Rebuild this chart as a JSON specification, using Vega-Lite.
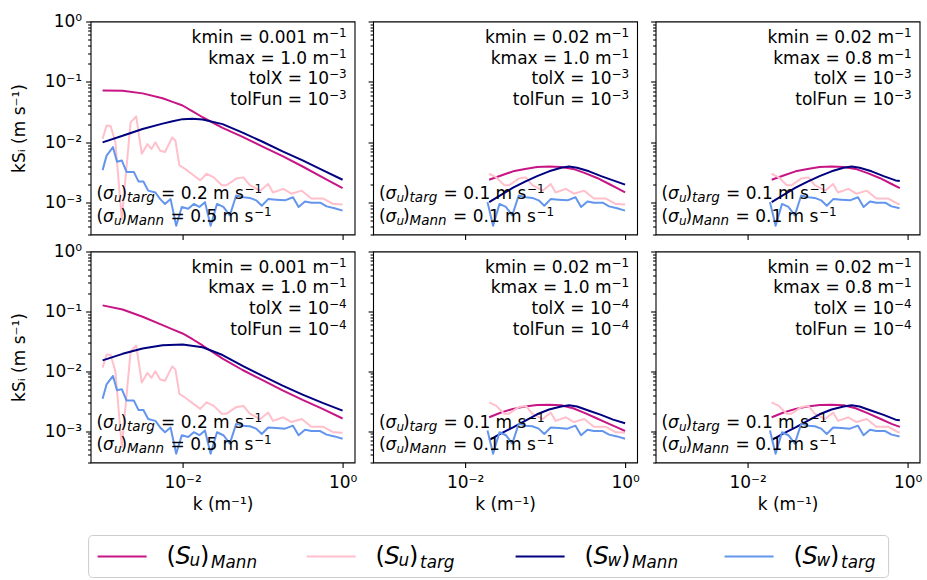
{
  "$schema": "https://vega.github.io/schema/vega-lite/v6.json",
  "background": "white",
  "padding": {"left": 9.6, "top": 11.5, "right": 9, "bottom": 5},
  "config": {
    "font": "DejaVu Sans",
    "view": {"stroke": "black", "strokeWidth": 1.1},
    "axis": {"domain": false, "grid": false, "ticks": true, "tickColor": "black", "tickWidth": 1.1, "labelFont": "DejaVu Sans", "labelFontSize": 17, "labelColor": "black", "labelFlush": false, "labelOverlap": false, "titleFont": "DejaVu Sans", "titleFontSize": 17, "titleFontWeight": "normal", "titleColor": "black"},
    "text": {"color": "black", "font": "DejaVu Sans"},
    "line": {"strokeWidth": 2, "strokeJoin": "round"}
  },
  "datasets": {
    "mann": [
      {"p":"a","s":"u","k":0.001,"v":0.0724},{"p":"a","s":"u","k":0.001778,"v":0.0716},{"p":"a","s":"u","k":0.003162,"v":0.0646},{"p":"a","s":"u","k":0.005623,"v":0.0537},{"p":"a","s":"u","k":0.0075,"v":0.0468},{"p":"a","s":"u","k":0.01,"v":0.0407},{"p":"a","s":"u","k":0.01334,"v":0.0324},{"p":"a","s":"u","k":0.01778,"v":0.026},{"p":"a","s":"u","k":0.03162,"v":0.01738},{"p":"a","s":"u","k":0.05623,"v":0.0123},{"p":"a","s":"u","k":0.1,"v":0.00851},{"p":"a","s":"u","k":0.1778,"v":0.00589},{"p":"a","s":"u","k":0.3162,"v":0.00398},{"p":"a","s":"u","k":0.5623,"v":0.00263},{"p":"a","s":"u","k":1,"v":0.00174},
      {"p":"a","s":"w","k":0.001,"v":0.01},{"p":"a","s":"w","k":0.001778,"v":0.01288},{"p":"a","s":"w","k":0.003162,"v":0.0166},{"p":"a","s":"w","k":0.005623,"v":0.0204},{"p":"a","s":"w","k":0.0075,"v":0.0224},{"p":"a","s":"w","k":0.01,"v":0.0242},{"p":"a","s":"w","k":0.01334,"v":0.0245},{"p":"a","s":"w","k":0.01778,"v":0.0238},{"p":"a","s":"w","k":0.03162,"v":0.02},{"p":"a","s":"w","k":0.05623,"v":0.01445},{"p":"a","s":"w","k":0.1,"v":0.01023},{"p":"a","s":"w","k":0.1778,"v":0.00708},{"p":"a","s":"w","k":0.3162,"v":0.00501},{"p":"a","s":"w","k":0.5623,"v":0.00347},{"p":"a","s":"w","k":1,"v":0.0024},
      {"p":"d","s":"u","k":0.001,"v":0.1259},{"p":"d","s":"u","k":0.001778,"v":0.1072},{"p":"d","s":"u","k":0.003162,"v":0.0813},{"p":"d","s":"u","k":0.005623,"v":0.0589},{"p":"d","s":"u","k":0.0075,"v":0.0501},{"p":"d","s":"u","k":0.01,"v":0.0427},{"p":"d","s":"u","k":0.01334,"v":0.0342},{"p":"d","s":"u","k":0.01778,"v":0.0269},{"p":"d","s":"u","k":0.03162,"v":0.01622},{"p":"d","s":"u","k":0.05623,"v":0.01047},{"p":"d","s":"u","k":0.1,"v":0.00708},{"p":"d","s":"u","k":0.1778,"v":0.00479},{"p":"d","s":"u","k":0.3162,"v":0.00331},{"p":"d","s":"u","k":0.5623,"v":0.00234},{"p":"d","s":"u","k":1,"v":0.00162},
      {"p":"d","s":"w","k":0.001,"v":0.01514},{"p":"d","s":"w","k":0.001778,"v":0.0195},{"p":"d","s":"w","k":0.003162,"v":0.024},{"p":"d","s":"w","k":0.005623,"v":0.0272},{"p":"d","s":"w","k":0.01,"v":0.0279},{"p":"d","s":"w","k":0.01778,"v":0.0251},{"p":"d","s":"w","k":0.03162,"v":0.01862},{"p":"d","s":"w","k":0.05623,"v":0.0123},{"p":"d","s":"w","k":0.1,"v":0.00832},{"p":"d","s":"w","k":0.1778,"v":0.00575},{"p":"d","s":"w","k":0.3162,"v":0.00407},{"p":"d","s":"w","k":0.5623,"v":0.00295},{"p":"d","s":"w","k":1,"v":0.00219},
      {"p":"b","s":"u","k":0.02,"v":0.002399},{"p":"b","s":"u","k":0.02818,"v":0.002818},{"p":"b","s":"u","k":0.03981,"v":0.003311},{"p":"b","s":"u","k":0.05623,"v":0.003631},{"p":"b","s":"u","k":0.07943,"v":0.00389},{"p":"b","s":"u","k":0.1122,"v":0.003981},{"p":"b","s":"u","k":0.1585,"v":0.00389},{"p":"b","s":"u","k":0.2239,"v":0.003631},{"p":"b","s":"u","k":0.3162,"v":0.00309},{"p":"b","s":"u","k":0.4467,"v":0.00257},{"p":"b","s":"u","k":0.631,"v":0.002042},{"p":"b","s":"u","k":0.7943,"v":0.001738},{"p":"b","s":"u","k":1,"v":0.001479},
      {"p":"b","s":"w","k":0.02,"v":0.001023},{"p":"b","s":"w","k":0.02818,"v":0.001349},{"p":"b","s":"w","k":0.03981,"v":0.001778},{"p":"b","s":"w","k":0.05623,"v":0.002239},{"p":"b","s":"w","k":0.07943,"v":0.002754},{"p":"b","s":"w","k":0.1122,"v":0.003311},{"p":"b","s":"w","k":0.1585,"v":0.003802},{"p":"b","s":"w","k":0.1995,"v":0.003981},{"p":"b","s":"w","k":0.2512,"v":0.003802},{"p":"b","s":"w","k":0.3548,"v":0.003311},{"p":"b","s":"w","k":0.5012,"v":0.002754},{"p":"b","s":"w","k":0.7079,"v":0.002344},{"p":"b","s":"w","k":1,"v":0.001995},
      {"p":"c","s":"u","k":0.02,"v":0.002399},{"p":"c","s":"u","k":0.02818,"v":0.002818},{"p":"c","s":"u","k":0.03981,"v":0.003311},{"p":"c","s":"u","k":0.05623,"v":0.003631},{"p":"c","s":"u","k":0.07943,"v":0.00389},{"p":"c","s":"u","k":0.1122,"v":0.003981},{"p":"c","s":"u","k":0.1585,"v":0.00389},{"p":"c","s":"u","k":0.2239,"v":0.003631},{"p":"c","s":"u","k":0.3162,"v":0.00309},{"p":"c","s":"u","k":0.4467,"v":0.00257},{"p":"c","s":"u","k":0.631,"v":0.002042},{"p":"c","s":"u","k":0.8,"v":0.001738},
      {"p":"c","s":"w","k":0.02,"v":0.001023},{"p":"c","s":"w","k":0.02818,"v":0.001349},{"p":"c","s":"w","k":0.03981,"v":0.001778},{"p":"c","s":"w","k":0.05623,"v":0.002239},{"p":"c","s":"w","k":0.07943,"v":0.002754},{"p":"c","s":"w","k":0.1122,"v":0.003311},{"p":"c","s":"w","k":0.1585,"v":0.003802},{"p":"c","s":"w","k":0.1995,"v":0.003981},{"p":"c","s":"w","k":0.2512,"v":0.003802},{"p":"c","s":"w","k":0.3548,"v":0.003311},{"p":"c","s":"w","k":0.5012,"v":0.002754},{"p":"c","s":"w","k":0.7079,"v":0.002344},{"p":"c","s":"w","k":0.8,"v":0.00229},
      {"p":"e","s":"u","k":0.02,"v":0.001698},{"p":"e","s":"u","k":0.02818,"v":0.002042},{"p":"e","s":"u","k":0.03981,"v":0.002344},{"p":"e","s":"u","k":0.05623,"v":0.00257},{"p":"e","s":"u","k":0.07943,"v":0.002723},{"p":"e","s":"u","k":0.1122,"v":0.002754},{"p":"e","s":"u","k":0.1585,"v":0.002692},{"p":"e","s":"u","k":0.2239,"v":0.002399},{"p":"e","s":"u","k":0.3162,"v":0.001995},{"p":"e","s":"u","k":0.4467,"v":0.001622},{"p":"e","s":"u","k":0.631,"v":0.001318},{"p":"e","s":"u","k":0.7943,"v":0.001148},{"p":"e","s":"u","k":1,"v":0.001},
      {"p":"e","s":"w","k":0.02,"v":0.000708},{"p":"e","s":"w","k":0.02818,"v":0.000912},{"p":"e","s":"w","k":0.03981,"v":0.001148},{"p":"e","s":"w","k":0.05623,"v":0.001479},{"p":"e","s":"w","k":0.07943,"v":0.001905},{"p":"e","s":"w","k":0.1122,"v":0.002291},{"p":"e","s":"w","k":0.1585,"v":0.00257},{"p":"e","s":"w","k":0.1995,"v":0.002692},{"p":"e","s":"w","k":0.2512,"v":0.00257},{"p":"e","s":"w","k":0.3548,"v":0.002188},{"p":"e","s":"w","k":0.5012,"v":0.001862},{"p":"e","s":"w","k":0.7079,"v":0.001549},{"p":"e","s":"w","k":1,"v":0.001349},
      {"p":"f","s":"u","k":0.02,"v":0.001698},{"p":"f","s":"u","k":0.02818,"v":0.002042},{"p":"f","s":"u","k":0.03981,"v":0.002344},{"p":"f","s":"u","k":0.05623,"v":0.00257},{"p":"f","s":"u","k":0.07943,"v":0.002723},{"p":"f","s":"u","k":0.1122,"v":0.002754},{"p":"f","s":"u","k":0.1585,"v":0.002692},{"p":"f","s":"u","k":0.2239,"v":0.002399},{"p":"f","s":"u","k":0.3162,"v":0.001995},{"p":"f","s":"u","k":0.4467,"v":0.001622},{"p":"f","s":"u","k":0.631,"v":0.001318},{"p":"f","s":"u","k":0.8,"v":0.001175},
      {"p":"f","s":"w","k":0.02,"v":0.000708},{"p":"f","s":"w","k":0.02818,"v":0.000912},{"p":"f","s":"w","k":0.03981,"v":0.001148},{"p":"f","s":"w","k":0.05623,"v":0.001479},{"p":"f","s":"w","k":0.07943,"v":0.001905},{"p":"f","s":"w","k":0.1122,"v":0.002291},{"p":"f","s":"w","k":0.1585,"v":0.00257},{"p":"f","s":"w","k":0.1995,"v":0.002692},{"p":"f","s":"w","k":0.2512,"v":0.00257},{"p":"f","s":"w","k":0.3548,"v":0.002188},{"p":"f","s":"w","k":0.5012,"v":0.001862},{"p":"f","s":"w","k":0.7079,"v":0.001549},{"p":"f","s":"w","k":0.8,"v":0.001514}
    ],
    "targ": [
      {"s":"u","k":0.001,"v":0.01148},{"s":"u","k":0.001122,"v":0.01905},{"s":"u","k":0.001259,"v":0.01862},{"s":"u","k":0.001445,"v":0.01},{"s":"u","k":0.001738,"v":0.000537},{"s":"u","k":0.002239,"v":0.02138},{"s":"u","k":0.00263,"v":0.02692},{"s":"u","k":0.00309,"v":0.006457},{"s":"u","k":0.003631,"v":0.009333},{"s":"u","k":0.004074,"v":0.007762},{"s":"u","k":0.004571,"v":0.01},{"s":"u","k":0.005248,"v":0.007244},{"s":"u","k":0.006026,"v":0.006918},{"s":"u","k":0.007413,"v":0.01202},{"s":"u","k":0.008128,"v":0.01072},{"s":"u","k":0.00912,"v":0.004169},{"s":"u","k":0.01072,"v":0.003631},{"s":"u","k":0.0138,"v":0.002818},{"s":"u","k":0.0166,"v":0.002344},{"s":"u","k":0.01995,"v":0.00302},{"s":"u","k":0.02455,"v":0.00263},{"s":"u","k":0.0309,"v":0.00195},{"s":"u","k":0.03548,"v":0.00195},{"s":"u","k":0.04677,"v":0.002512},{"s":"u","k":0.05754,"v":0.00263},{"s":"u","k":0.06918,"v":0.00195},{"s":"u","k":0.09333,"v":0.001585},{"s":"u","k":0.1175,"v":0.002042},{"s":"u","k":0.1349,"v":0.001479},{"s":"u","k":0.182,"v":0.001698},{"s":"u","k":0.2291,"v":0.001413},{"s":"u","k":0.309,"v":0.001585},{"s":"u","k":0.4074,"v":0.001175},{"s":"u","k":0.5754,"v":0.001175},{"s":"u","k":0.7586,"v":0.000955},{"s":"u","k":0.8,"v":0.00095},{"s":"u","k":1,"v":0.000933},
      {"s":"w","k":0.001,"v":0.003467},{"s":"w","k":0.001122,"v":0.006026},{"s":"w","k":0.001349,"v":0.008318},{"s":"w","k":0.001514,"v":0.004786},{"s":"w","k":0.001738,"v":0.005012},{"s":"w","k":0.001995,"v":0.003236},{"s":"w","k":0.002455,"v":0.003236},{"s":"w","k":0.002818,"v":0.002239},{"s":"w","k":0.003236,"v":0.002239},{"s":"w","k":0.003715,"v":0.001585},{"s":"w","k":0.004571,"v":0.001479},{"s":"w","k":0.005248,"v":0.001148},{"s":"w","k":0.006026,"v":0.000955},{"s":"w","k":0.007079,"v":0.001148},{"s":"w","k":0.008318,"v":0.000417},{"s":"w","k":0.009772,"v":0.000851},{"s":"w","k":0.01175,"v":0.000794},{"s":"w","k":0.0138,"v":0.000955},{"s":"w","k":0.01622,"v":0.000851},{"s":"w","k":0.01905,"v":0.001023},{"s":"w","k":0.02239,"v":0.000417},{"s":"w","k":0.02692,"v":0.000955},{"s":"w","k":0.03236,"v":0.000851},{"s":"w","k":0.0389,"v":0.000617},{"s":"w","k":0.04677,"v":0.001318},{"s":"w","k":0.05754,"v":0.00123},{"s":"w","k":0.06918,"v":0.001202},{"s":"w","k":0.08318,"v":0.001096},{"s":"w","k":0.09772,"v":0.000891},{"s":"w","k":0.1175,"v":0.001148},{"s":"w","k":0.1479,"v":0.001122},{"s":"w","k":0.1905,"v":0.001096},{"s":"w","k":0.2399,"v":0.00123},{"s":"w","k":0.2818,"v":0.000851},{"s":"w","k":0.3388,"v":0.001047},{"s":"w","k":0.4074,"v":0.001},{"s":"w","k":0.5248,"v":0.001},{"s":"w","k":0.631,"v":0.000871},{"s":"w","k":0.7943,"v":0.000813},{"s":"w","k":1,"v":0.000741}
    ],
    "notes": [
      {"p":"a","rt":["kmin = 0.001 m","kmax = 1.0 m","tolX = 10","tolFun = 10"],"rs":["−1","−1","−3","−3"],"m1":"= 0.2 m s","m2":"= 0.5 m s"},
      {"p":"b","rt":["kmin = 0.02 m","kmax = 1.0 m","tolX = 10","tolFun = 10"],"rs":["−1","−1","−3","−3"],"m1":"= 0.1 m s","m2":"= 0.1 m s"},
      {"p":"c","rt":["kmin = 0.02 m","kmax = 0.8 m","tolX = 10","tolFun = 10"],"rs":["−1","−1","−3","−3"],"m1":"= 0.1 m s","m2":"= 0.1 m s"},
      {"p":"d","rt":["kmin = 0.001 m","kmax = 1.0 m","tolX = 10","tolFun = 10"],"rs":["−1","−1","−4","−4"],"m1":"= 0.2 m s","m2":"= 0.5 m s"},
      {"p":"e","rt":["kmin = 0.02 m","kmax = 1.0 m","tolX = 10","tolFun = 10"],"rs":["−1","−1","−4","−4"],"m1":"= 0.1 m s","m2":"= 0.1 m s"},
      {"p":"f","rt":["kmin = 0.02 m","kmax = 0.8 m","tolX = 10","tolFun = 10"],"rs":["−1","−1","−4","−4"],"m1":"= 0.1 m s","m2":"= 0.1 m s"}
    ],
    "keys": [
      {"s":"SuMann","c":"u","t":"Mann"},{"s":"Sutarg","c":"u","t":"targ"},{"s":"SwMann","c":"w","t":"Mann"},{"s":"Swtarg","c":"w","t":"targ"}
    ],
    "box": [{"a":"SuMann","b":"Swtarg"}]
  },
  "vconcat": [
    {
      "columns": 3,
      "spacing": {"row": 17, "column": 18.5},
      "bounds": "flush",
      "concat": [
        {"width":264,"height":213,"resolve":{"axis":{"x":"independent","y":"independent"}},"layer":[
          {"data":{"name":"mann"},"transform":[{"filter":"datum.p == 'a' && datum.s == 'u'"}],"mark":{"type":"line","color":"#c71585"},"encoding":{"x":{"field":"k","type":"quantitative","scale":{"type":"log","domain":[0.000708,1.413],"nice":false},"axis":{"orient":"bottom","values":[0.01,1],"labels":false,"title":null,"tickSize":5}},"y":{"field":"v","type":"quantitative","scale":{"type":"log","domain":[0.000298,1],"nice":false},"axis":{"orient":"left","values":[0.001,0.01,0.1,1],"labelExpr":"datum.value == 1 ? '10⁰' : datum.value == 0.1 ? '10⁻¹' : datum.value == 0.01 ? '10⁻²' : '10⁻³'","tickSize":5,"labelPadding":4,"title":"kSᵢ (m s⁻¹)","titlePadding":16}}}},
          {"data":{"name":"targ"},"transform":[{"filter":"datum.s == 'u'"}],"mark":{"type":"line","color":"#ffc0cb"},"encoding":{"x":{"field":"k","type":"quantitative","axis":null},"y":{"field":"v","type":"quantitative","axis":{"orient":"left","values":[0.0003,0.0004,0.0005,0.0006,0.0007,0.0008,0.0009,0.002,0.003,0.004,0.005,0.006,0.007,0.008,0.009,0.02,0.03,0.04,0.05,0.06,0.07,0.08,0.09,0.2,0.3,0.4,0.5,0.6,0.7,0.8,0.9],"labels":false,"title":null,"tickSize":3}}}},
          {"data":{"name":"mann"},"transform":[{"filter":"datum.p == 'a' && datum.s == 'w'"}],"mark":{"type":"line","color":"#000080"},"encoding":{"x":{"field":"k","type":"quantitative","axis":null},"y":{"field":"v","type":"quantitative","axis":null}}},
          {"data":{"name":"targ"},"transform":[{"filter":"datum.s == 'w'"}],"mark":{"type":"line","color":"#6495ed"},"encoding":{"x":{"field":"k","type":"quantitative","axis":null},"y":{"field":"v","type":"quantitative","axis":null}}},
          {"data":{"name":"notes"},"transform":[{"filter":"datum.p == 'a'"}],"mark":{"type":"text","align":"right","baseline":"alphabetic","fontSize":17,"lineHeight":20.6,"dx":-17.5},"encoding":{"x":{"datum":1.122,"type":"quantitative","axis":null},"y":{"datum":0.44,"type":"quantitative","axis":null},"text":{"field":"rt","type":"nominal"}}},
          {"data":{"name":"notes"},"transform":[{"filter":"datum.p == 'a'"}],"mark":{"type":"text","align":"right","baseline":"alphabetic","fontSize":12,"lineHeight":20.6,"dy":-6},"encoding":{"x":{"datum":1.122,"type":"quantitative","axis":null},"y":{"datum":0.44,"type":"quantitative","axis":null},"text":{"field":"rs","type":"nominal"}}},
          {"data":{"name":"notes"},"transform":[{"filter":"datum.p == 'a'"}],"mark":{"type":"text","align":"left","baseline":"alphabetic","fontSize":17,"lineHeight":22.5,"text":["(","("]},"encoding":{"x":{"datum":0.000841,"type":"quantitative","axis":null},"y":{"datum":0.00114,"type":"quantitative","axis":null}}},
          {"data":{"name":"notes"},"transform":[{"filter":"datum.p == 'a'"}],"mark":{"type":"text","align":"left","baseline":"alphabetic","fontSize":17,"fontStyle":"italic","lineHeight":22.5,"dx":6.5,"text":["σ","σ"]},"encoding":{"x":{"datum":0.000841,"type":"quantitative","axis":null},"y":{"datum":0.00114,"type":"quantitative","axis":null}}},
          {"data":{"name":"notes"},"transform":[{"filter":"datum.p == 'a'"}],"mark":{"type":"text","align":"left","baseline":"alphabetic","fontSize":12,"fontStyle":"italic","lineHeight":22.5,"dx":17.5,"dy":3,"text":["u","u"]},"encoding":{"x":{"datum":0.000841,"type":"quantitative","axis":null},"y":{"datum":0.00114,"type":"quantitative","axis":null}}},
          {"data":{"name":"notes"},"transform":[{"filter":"datum.p == 'a'"}],"mark":{"type":"text","align":"left","baseline":"alphabetic","fontSize":17,"lineHeight":22.5,"dx":24,"text":[")",")"]},"encoding":{"x":{"datum":0.000841,"type":"quantitative","axis":null},"y":{"datum":0.00114,"type":"quantitative","axis":null}}},
          {"data":{"name":"notes"},"transform":[{"filter":"datum.p == 'a'"}],"mark":{"type":"text","align":"left","baseline":"alphabetic","fontSize":13.5,"fontStyle":"italic","lineHeight":22.5,"dx":30.5,"dy":3,"text":["targ","Mann"]},"encoding":{"x":{"datum":0.000841,"type":"quantitative","axis":null},"y":{"datum":0.00114,"type":"quantitative","axis":null}}},
          {"data":{"name":"notes"},"transform":[{"filter":"datum.p == 'a'"}],"mark":{"type":"text","align":"left","baseline":"alphabetic","fontSize":17,"dx":64.5},"encoding":{"x":{"datum":0.000841,"type":"quantitative","axis":null},"y":{"datum":0.00114,"type":"quantitative","axis":null},"text":{"field":"m1","type":"nominal"}}},
          {"data":{"name":"notes"},"transform":[{"filter":"datum.p == 'a'"}],"mark":{"type":"text","align":"left","baseline":"alphabetic","fontSize":12,"dx":148,"dy":-6,"text":"−1"},"encoding":{"x":{"datum":0.000841,"type":"quantitative","axis":null},"y":{"datum":0.00114,"type":"quantitative","axis":null}}},
          {"data":{"name":"notes"},"transform":[{"filter":"datum.p == 'a'"}],"mark":{"type":"text","align":"left","baseline":"alphabetic","fontSize":17,"dx":74,"dy":22.5},"encoding":{"x":{"datum":0.000841,"type":"quantitative","axis":null},"y":{"datum":0.00114,"type":"quantitative","axis":null},"text":{"field":"m2","type":"nominal"}}},
          {"data":{"name":"notes"},"transform":[{"filter":"datum.p == 'a'"}],"mark":{"type":"text","align":"left","baseline":"alphabetic","fontSize":12,"dx":157.5,"dy":16.5,"text":"−1"},"encoding":{"x":{"datum":0.000841,"type":"quantitative","axis":null},"y":{"datum":0.00114,"type":"quantitative","axis":null}}}
        ]},
        {"width":264,"height":213,"resolve":{"axis":{"x":"independent","y":"independent"}},"layer":[
          {"data":{"name":"mann"},"transform":[{"filter":"datum.p == 'b' && datum.s == 'u'"}],"mark":{"type":"line","color":"#c71585"},"encoding":{"x":{"field":"k","type":"quantitative","scale":{"type":"log","domain":[0.000708,1.413],"nice":false},"axis":{"orient":"bottom","values":[0.01,1],"labels":false,"title":null,"tickSize":5}},"y":{"field":"v","type":"quantitative","scale":{"type":"log","domain":[0.000298,1],"nice":false},"axis":{"orient":"left","values":[0.001,0.01,0.1,1],"labels":false,"title":null,"tickSize":5}}}},
          {"data":{"name":"targ"},"transform":[{"filter":"datum.s == 'u' && datum.k >= 0.019"}],"mark":{"type":"line","color":"#ffc0cb"},"encoding":{"x":{"field":"k","type":"quantitative","axis":null},"y":{"field":"v","type":"quantitative","axis":{"orient":"left","values":[0.0003,0.0004,0.0005,0.0006,0.0007,0.0008,0.0009,0.002,0.003,0.004,0.005,0.006,0.007,0.008,0.009,0.02,0.03,0.04,0.05,0.06,0.07,0.08,0.09,0.2,0.3,0.4,0.5,0.6,0.7,0.8,0.9],"labels":false,"title":null,"tickSize":3}}}},
          {"data":{"name":"mann"},"transform":[{"filter":"datum.p == 'b' && datum.s == 'w'"}],"mark":{"type":"line","color":"#000080"},"encoding":{"x":{"field":"k","type":"quantitative","axis":null},"y":{"field":"v","type":"quantitative","axis":null}}},
          {"data":{"name":"targ"},"transform":[{"filter":"datum.s == 'w' && datum.k >= 0.019"}],"mark":{"type":"line","color":"#6495ed"},"encoding":{"x":{"field":"k","type":"quantitative","axis":null},"y":{"field":"v","type":"quantitative","axis":null}}},
          {"data":{"name":"notes"},"transform":[{"filter":"datum.p == 'b'"}],"mark":{"type":"text","align":"right","baseline":"alphabetic","fontSize":17,"lineHeight":20.6,"dx":-17.5},"encoding":{"x":{"datum":1.122,"type":"quantitative","axis":null},"y":{"datum":0.44,"type":"quantitative","axis":null},"text":{"field":"rt","type":"nominal"}}},
          {"data":{"name":"notes"},"transform":[{"filter":"datum.p == 'b'"}],"mark":{"type":"text","align":"right","baseline":"alphabetic","fontSize":12,"lineHeight":20.6,"dy":-6},"encoding":{"x":{"datum":1.122,"type":"quantitative","axis":null},"y":{"datum":0.44,"type":"quantitative","axis":null},"text":{"field":"rs","type":"nominal"}}},
          {"data":{"name":"notes"},"transform":[{"filter":"datum.p == 'b'"}],"mark":{"type":"text","align":"left","baseline":"alphabetic","fontSize":17,"lineHeight":22.5,"text":["(","("]},"encoding":{"x":{"datum":0.000841,"type":"quantitative","axis":null},"y":{"datum":0.00114,"type":"quantitative","axis":null}}},
          {"data":{"name":"notes"},"transform":[{"filter":"datum.p == 'b'"}],"mark":{"type":"text","align":"left","baseline":"alphabetic","fontSize":17,"fontStyle":"italic","lineHeight":22.5,"dx":6.5,"text":["σ","σ"]},"encoding":{"x":{"datum":0.000841,"type":"quantitative","axis":null},"y":{"datum":0.00114,"type":"quantitative","axis":null}}},
          {"data":{"name":"notes"},"transform":[{"filter":"datum.p == 'b'"}],"mark":{"type":"text","align":"left","baseline":"alphabetic","fontSize":12,"fontStyle":"italic","lineHeight":22.5,"dx":17.5,"dy":3,"text":["u","u"]},"encoding":{"x":{"datum":0.000841,"type":"quantitative","axis":null},"y":{"datum":0.00114,"type":"quantitative","axis":null}}},
          {"data":{"name":"notes"},"transform":[{"filter":"datum.p == 'b'"}],"mark":{"type":"text","align":"left","baseline":"alphabetic","fontSize":17,"lineHeight":22.5,"dx":24,"text":[")",")"]},"encoding":{"x":{"datum":0.000841,"type":"quantitative","axis":null},"y":{"datum":0.00114,"type":"quantitative","axis":null}}},
          {"data":{"name":"notes"},"transform":[{"filter":"datum.p == 'b'"}],"mark":{"type":"text","align":"left","baseline":"alphabetic","fontSize":13.5,"fontStyle":"italic","lineHeight":22.5,"dx":30.5,"dy":3,"text":["targ","Mann"]},"encoding":{"x":{"datum":0.000841,"type":"quantitative","axis":null},"y":{"datum":0.00114,"type":"quantitative","axis":null}}},
          {"data":{"name":"notes"},"transform":[{"filter":"datum.p == 'b'"}],"mark":{"type":"text","align":"left","baseline":"alphabetic","fontSize":17,"dx":64.5},"encoding":{"x":{"datum":0.000841,"type":"quantitative","axis":null},"y":{"datum":0.00114,"type":"quantitative","axis":null},"text":{"field":"m1","type":"nominal"}}},
          {"data":{"name":"notes"},"transform":[{"filter":"datum.p == 'b'"}],"mark":{"type":"text","align":"left","baseline":"alphabetic","fontSize":12,"dx":148,"dy":-6,"text":"−1"},"encoding":{"x":{"datum":0.000841,"type":"quantitative","axis":null},"y":{"datum":0.00114,"type":"quantitative","axis":null}}},
          {"data":{"name":"notes"},"transform":[{"filter":"datum.p == 'b'"}],"mark":{"type":"text","align":"left","baseline":"alphabetic","fontSize":17,"dx":74,"dy":22.5},"encoding":{"x":{"datum":0.000841,"type":"quantitative","axis":null},"y":{"datum":0.00114,"type":"quantitative","axis":null},"text":{"field":"m2","type":"nominal"}}},
          {"data":{"name":"notes"},"transform":[{"filter":"datum.p == 'b'"}],"mark":{"type":"text","align":"left","baseline":"alphabetic","fontSize":12,"dx":157.5,"dy":16.5,"text":"−1"},"encoding":{"x":{"datum":0.000841,"type":"quantitative","axis":null},"y":{"datum":0.00114,"type":"quantitative","axis":null}}}
        ]},
        {"width":264,"height":213,"resolve":{"axis":{"x":"independent","y":"independent"}},"layer":[
          {"data":{"name":"mann"},"transform":[{"filter":"datum.p == 'c' && datum.s == 'u'"}],"mark":{"type":"line","color":"#c71585"},"encoding":{"x":{"field":"k","type":"quantitative","scale":{"type":"log","domain":[0.000708,1.413],"nice":false},"axis":{"orient":"bottom","values":[0.01,1],"labels":false,"title":null,"tickSize":5}},"y":{"field":"v","type":"quantitative","scale":{"type":"log","domain":[0.000298,1],"nice":false},"axis":{"orient":"left","values":[0.001,0.01,0.1,1],"labels":false,"title":null,"tickSize":5}}}},
          {"data":{"name":"targ"},"transform":[{"filter":"datum.s == 'u' && datum.k >= 0.019 && datum.k <= 0.8001"}],"mark":{"type":"line","color":"#ffc0cb"},"encoding":{"x":{"field":"k","type":"quantitative","axis":null},"y":{"field":"v","type":"quantitative","axis":{"orient":"left","values":[0.0003,0.0004,0.0005,0.0006,0.0007,0.0008,0.0009,0.002,0.003,0.004,0.005,0.006,0.007,0.008,0.009,0.02,0.03,0.04,0.05,0.06,0.07,0.08,0.09,0.2,0.3,0.4,0.5,0.6,0.7,0.8,0.9],"labels":false,"title":null,"tickSize":3}}}},
          {"data":{"name":"mann"},"transform":[{"filter":"datum.p == 'c' && datum.s == 'w'"}],"mark":{"type":"line","color":"#000080"},"encoding":{"x":{"field":"k","type":"quantitative","axis":null},"y":{"field":"v","type":"quantitative","axis":null}}},
          {"data":{"name":"targ"},"transform":[{"filter":"datum.s == 'w' && datum.k >= 0.019 && datum.k <= 0.8001"}],"mark":{"type":"line","color":"#6495ed"},"encoding":{"x":{"field":"k","type":"quantitative","axis":null},"y":{"field":"v","type":"quantitative","axis":null}}},
          {"data":{"name":"notes"},"transform":[{"filter":"datum.p == 'c'"}],"mark":{"type":"text","align":"right","baseline":"alphabetic","fontSize":17,"lineHeight":20.6,"dx":-17.5},"encoding":{"x":{"datum":1.122,"type":"quantitative","axis":null},"y":{"datum":0.44,"type":"quantitative","axis":null},"text":{"field":"rt","type":"nominal"}}},
          {"data":{"name":"notes"},"transform":[{"filter":"datum.p == 'c'"}],"mark":{"type":"text","align":"right","baseline":"alphabetic","fontSize":12,"lineHeight":20.6,"dy":-6},"encoding":{"x":{"datum":1.122,"type":"quantitative","axis":null},"y":{"datum":0.44,"type":"quantitative","axis":null},"text":{"field":"rs","type":"nominal"}}},
          {"data":{"name":"notes"},"transform":[{"filter":"datum.p == 'c'"}],"mark":{"type":"text","align":"left","baseline":"alphabetic","fontSize":17,"lineHeight":22.5,"text":["(","("]},"encoding":{"x":{"datum":0.000841,"type":"quantitative","axis":null},"y":{"datum":0.00114,"type":"quantitative","axis":null}}},
          {"data":{"name":"notes"},"transform":[{"filter":"datum.p == 'c'"}],"mark":{"type":"text","align":"left","baseline":"alphabetic","fontSize":17,"fontStyle":"italic","lineHeight":22.5,"dx":6.5,"text":["σ","σ"]},"encoding":{"x":{"datum":0.000841,"type":"quantitative","axis":null},"y":{"datum":0.00114,"type":"quantitative","axis":null}}},
          {"data":{"name":"notes"},"transform":[{"filter":"datum.p == 'c'"}],"mark":{"type":"text","align":"left","baseline":"alphabetic","fontSize":12,"fontStyle":"italic","lineHeight":22.5,"dx":17.5,"dy":3,"text":["u","u"]},"encoding":{"x":{"datum":0.000841,"type":"quantitative","axis":null},"y":{"datum":0.00114,"type":"quantitative","axis":null}}},
          {"data":{"name":"notes"},"transform":[{"filter":"datum.p == 'c'"}],"mark":{"type":"text","align":"left","baseline":"alphabetic","fontSize":17,"lineHeight":22.5,"dx":24,"text":[")",")"]},"encoding":{"x":{"datum":0.000841,"type":"quantitative","axis":null},"y":{"datum":0.00114,"type":"quantitative","axis":null}}},
          {"data":{"name":"notes"},"transform":[{"filter":"datum.p == 'c'"}],"mark":{"type":"text","align":"left","baseline":"alphabetic","fontSize":13.5,"fontStyle":"italic","lineHeight":22.5,"dx":30.5,"dy":3,"text":["targ","Mann"]},"encoding":{"x":{"datum":0.000841,"type":"quantitative","axis":null},"y":{"datum":0.00114,"type":"quantitative","axis":null}}},
          {"data":{"name":"notes"},"transform":[{"filter":"datum.p == 'c'"}],"mark":{"type":"text","align":"left","baseline":"alphabetic","fontSize":17,"dx":64.5},"encoding":{"x":{"datum":0.000841,"type":"quantitative","axis":null},"y":{"datum":0.00114,"type":"quantitative","axis":null},"text":{"field":"m1","type":"nominal"}}},
          {"data":{"name":"notes"},"transform":[{"filter":"datum.p == 'c'"}],"mark":{"type":"text","align":"left","baseline":"alphabetic","fontSize":12,"dx":148,"dy":-6,"text":"−1"},"encoding":{"x":{"datum":0.000841,"type":"quantitative","axis":null},"y":{"datum":0.00114,"type":"quantitative","axis":null}}},
          {"data":{"name":"notes"},"transform":[{"filter":"datum.p == 'c'"}],"mark":{"type":"text","align":"left","baseline":"alphabetic","fontSize":17,"dx":74,"dy":22.5},"encoding":{"x":{"datum":0.000841,"type":"quantitative","axis":null},"y":{"datum":0.00114,"type":"quantitative","axis":null},"text":{"field":"m2","type":"nominal"}}},
          {"data":{"name":"notes"},"transform":[{"filter":"datum.p == 'c'"}],"mark":{"type":"text","align":"left","baseline":"alphabetic","fontSize":12,"dx":157.5,"dy":16.5,"text":"−1"},"encoding":{"x":{"datum":0.000841,"type":"quantitative","axis":null},"y":{"datum":0.00114,"type":"quantitative","axis":null}}}
        ]},
        {"width":264,"height":211,"resolve":{"axis":{"x":"independent","y":"independent"}},"layer":[
          {"data":{"name":"mann"},"transform":[{"filter":"datum.p == 'd' && datum.s == 'u'"}],"mark":{"type":"line","color":"#c71585"},"encoding":{"x":{"field":"k","type":"quantitative","scale":{"type":"log","domain":[0.000708,1.413],"nice":false},"axis":{"orient":"bottom","values":[0.01,1],"labelExpr":"datum.value == 1 ? '10⁰' : '10⁻²'","tickSize":5,"labelPadding":7,"title":"k (m⁻¹)","titlePadding":6}},"y":{"field":"v","type":"quantitative","scale":{"type":"log","domain":[0.000298,1],"nice":false},"axis":{"orient":"left","values":[0.001,0.01,0.1,1],"labelExpr":"datum.value == 1 ? '10⁰' : datum.value == 0.1 ? '10⁻¹' : datum.value == 0.01 ? '10⁻²' : '10⁻³'","tickSize":5,"labelPadding":4,"title":"kSᵢ (m s⁻¹)","titlePadding":16}}}},
          {"data":{"name":"targ"},"transform":[{"filter":"datum.s == 'u'"}],"mark":{"type":"line","color":"#ffc0cb"},"encoding":{"x":{"field":"k","type":"quantitative","axis":null},"y":{"field":"v","type":"quantitative","axis":{"orient":"left","values":[0.0003,0.0004,0.0005,0.0006,0.0007,0.0008,0.0009,0.002,0.003,0.004,0.005,0.006,0.007,0.008,0.009,0.02,0.03,0.04,0.05,0.06,0.07,0.08,0.09,0.2,0.3,0.4,0.5,0.6,0.7,0.8,0.9],"labels":false,"title":null,"tickSize":3}}}},
          {"data":{"name":"mann"},"transform":[{"filter":"datum.p == 'd' && datum.s == 'w'"}],"mark":{"type":"line","color":"#000080"},"encoding":{"x":{"field":"k","type":"quantitative","axis":null},"y":{"field":"v","type":"quantitative","axis":null}}},
          {"data":{"name":"targ"},"transform":[{"filter":"datum.s == 'w'"}],"mark":{"type":"line","color":"#6495ed"},"encoding":{"x":{"field":"k","type":"quantitative","axis":null},"y":{"field":"v","type":"quantitative","axis":null}}},
          {"data":{"name":"notes"},"transform":[{"filter":"datum.p == 'd'"}],"mark":{"type":"text","align":"right","baseline":"alphabetic","fontSize":17,"lineHeight":20.6,"dx":-17.5},"encoding":{"x":{"datum":1.122,"type":"quantitative","axis":null},"y":{"datum":0.44,"type":"quantitative","axis":null},"text":{"field":"rt","type":"nominal"}}},
          {"data":{"name":"notes"},"transform":[{"filter":"datum.p == 'd'"}],"mark":{"type":"text","align":"right","baseline":"alphabetic","fontSize":12,"lineHeight":20.6,"dy":-6},"encoding":{"x":{"datum":1.122,"type":"quantitative","axis":null},"y":{"datum":0.44,"type":"quantitative","axis":null},"text":{"field":"rs","type":"nominal"}}},
          {"data":{"name":"notes"},"transform":[{"filter":"datum.p == 'd'"}],"mark":{"type":"text","align":"left","baseline":"alphabetic","fontSize":17,"lineHeight":22.5,"text":["(","("]},"encoding":{"x":{"datum":0.000841,"type":"quantitative","axis":null},"y":{"datum":0.00114,"type":"quantitative","axis":null}}},
          {"data":{"name":"notes"},"transform":[{"filter":"datum.p == 'd'"}],"mark":{"type":"text","align":"left","baseline":"alphabetic","fontSize":17,"fontStyle":"italic","lineHeight":22.5,"dx":6.5,"text":["σ","σ"]},"encoding":{"x":{"datum":0.000841,"type":"quantitative","axis":null},"y":{"datum":0.00114,"type":"quantitative","axis":null}}},
          {"data":{"name":"notes"},"transform":[{"filter":"datum.p == 'd'"}],"mark":{"type":"text","align":"left","baseline":"alphabetic","fontSize":12,"fontStyle":"italic","lineHeight":22.5,"dx":17.5,"dy":3,"text":["u","u"]},"encoding":{"x":{"datum":0.000841,"type":"quantitative","axis":null},"y":{"datum":0.00114,"type":"quantitative","axis":null}}},
          {"data":{"name":"notes"},"transform":[{"filter":"datum.p == 'd'"}],"mark":{"type":"text","align":"left","baseline":"alphabetic","fontSize":17,"lineHeight":22.5,"dx":24,"text":[")",")"]},"encoding":{"x":{"datum":0.000841,"type":"quantitative","axis":null},"y":{"datum":0.00114,"type":"quantitative","axis":null}}},
          {"data":{"name":"notes"},"transform":[{"filter":"datum.p == 'd'"}],"mark":{"type":"text","align":"left","baseline":"alphabetic","fontSize":13.5,"fontStyle":"italic","lineHeight":22.5,"dx":30.5,"dy":3,"text":["targ","Mann"]},"encoding":{"x":{"datum":0.000841,"type":"quantitative","axis":null},"y":{"datum":0.00114,"type":"quantitative","axis":null}}},
          {"data":{"name":"notes"},"transform":[{"filter":"datum.p == 'd'"}],"mark":{"type":"text","align":"left","baseline":"alphabetic","fontSize":17,"dx":64.5},"encoding":{"x":{"datum":0.000841,"type":"quantitative","axis":null},"y":{"datum":0.00114,"type":"quantitative","axis":null},"text":{"field":"m1","type":"nominal"}}},
          {"data":{"name":"notes"},"transform":[{"filter":"datum.p == 'd'"}],"mark":{"type":"text","align":"left","baseline":"alphabetic","fontSize":12,"dx":148,"dy":-6,"text":"−1"},"encoding":{"x":{"datum":0.000841,"type":"quantitative","axis":null},"y":{"datum":0.00114,"type":"quantitative","axis":null}}},
          {"data":{"name":"notes"},"transform":[{"filter":"datum.p == 'd'"}],"mark":{"type":"text","align":"left","baseline":"alphabetic","fontSize":17,"dx":74,"dy":22.5},"encoding":{"x":{"datum":0.000841,"type":"quantitative","axis":null},"y":{"datum":0.00114,"type":"quantitative","axis":null},"text":{"field":"m2","type":"nominal"}}},
          {"data":{"name":"notes"},"transform":[{"filter":"datum.p == 'd'"}],"mark":{"type":"text","align":"left","baseline":"alphabetic","fontSize":12,"dx":157.5,"dy":16.5,"text":"−1"},"encoding":{"x":{"datum":0.000841,"type":"quantitative","axis":null},"y":{"datum":0.00114,"type":"quantitative","axis":null}}}
        ]},
        {"width":264,"height":211,"resolve":{"axis":{"x":"independent","y":"independent"}},"layer":[
          {"data":{"name":"mann"},"transform":[{"filter":"datum.p == 'e' && datum.s == 'u'"}],"mark":{"type":"line","color":"#c71585"},"encoding":{"x":{"field":"k","type":"quantitative","scale":{"type":"log","domain":[0.000708,1.413],"nice":false},"axis":{"orient":"bottom","values":[0.01,1],"labelExpr":"datum.value == 1 ? '10⁰' : '10⁻²'","tickSize":5,"labelPadding":7,"title":"k (m⁻¹)","titlePadding":6}},"y":{"field":"v","type":"quantitative","scale":{"type":"log","domain":[0.000298,1],"nice":false},"axis":{"orient":"left","values":[0.001,0.01,0.1,1],"labels":false,"title":null,"tickSize":5}}}},
          {"data":{"name":"targ"},"transform":[{"filter":"datum.s == 'u' && datum.k >= 0.019"}],"mark":{"type":"line","color":"#ffc0cb"},"encoding":{"x":{"field":"k","type":"quantitative","axis":null},"y":{"field":"v","type":"quantitative","axis":{"orient":"left","values":[0.0003,0.0004,0.0005,0.0006,0.0007,0.0008,0.0009,0.002,0.003,0.004,0.005,0.006,0.007,0.008,0.009,0.02,0.03,0.04,0.05,0.06,0.07,0.08,0.09,0.2,0.3,0.4,0.5,0.6,0.7,0.8,0.9],"labels":false,"title":null,"tickSize":3}}}},
          {"data":{"name":"mann"},"transform":[{"filter":"datum.p == 'e' && datum.s == 'w'"}],"mark":{"type":"line","color":"#000080"},"encoding":{"x":{"field":"k","type":"quantitative","axis":null},"y":{"field":"v","type":"quantitative","axis":null}}},
          {"data":{"name":"targ"},"transform":[{"filter":"datum.s == 'w' && datum.k >= 0.019"}],"mark":{"type":"line","color":"#6495ed"},"encoding":{"x":{"field":"k","type":"quantitative","axis":null},"y":{"field":"v","type":"quantitative","axis":null}}},
          {"data":{"name":"notes"},"transform":[{"filter":"datum.p == 'e'"}],"mark":{"type":"text","align":"right","baseline":"alphabetic","fontSize":17,"lineHeight":20.6,"dx":-17.5},"encoding":{"x":{"datum":1.122,"type":"quantitative","axis":null},"y":{"datum":0.44,"type":"quantitative","axis":null},"text":{"field":"rt","type":"nominal"}}},
          {"data":{"name":"notes"},"transform":[{"filter":"datum.p == 'e'"}],"mark":{"type":"text","align":"right","baseline":"alphabetic","fontSize":12,"lineHeight":20.6,"dy":-6},"encoding":{"x":{"datum":1.122,"type":"quantitative","axis":null},"y":{"datum":0.44,"type":"quantitative","axis":null},"text":{"field":"rs","type":"nominal"}}},
          {"data":{"name":"notes"},"transform":[{"filter":"datum.p == 'e'"}],"mark":{"type":"text","align":"left","baseline":"alphabetic","fontSize":17,"lineHeight":22.5,"text":["(","("]},"encoding":{"x":{"datum":0.000841,"type":"quantitative","axis":null},"y":{"datum":0.00114,"type":"quantitative","axis":null}}},
          {"data":{"name":"notes"},"transform":[{"filter":"datum.p == 'e'"}],"mark":{"type":"text","align":"left","baseline":"alphabetic","fontSize":17,"fontStyle":"italic","lineHeight":22.5,"dx":6.5,"text":["σ","σ"]},"encoding":{"x":{"datum":0.000841,"type":"quantitative","axis":null},"y":{"datum":0.00114,"type":"quantitative","axis":null}}},
          {"data":{"name":"notes"},"transform":[{"filter":"datum.p == 'e'"}],"mark":{"type":"text","align":"left","baseline":"alphabetic","fontSize":12,"fontStyle":"italic","lineHeight":22.5,"dx":17.5,"dy":3,"text":["u","u"]},"encoding":{"x":{"datum":0.000841,"type":"quantitative","axis":null},"y":{"datum":0.00114,"type":"quantitative","axis":null}}},
          {"data":{"name":"notes"},"transform":[{"filter":"datum.p == 'e'"}],"mark":{"type":"text","align":"left","baseline":"alphabetic","fontSize":17,"lineHeight":22.5,"dx":24,"text":[")",")"]},"encoding":{"x":{"datum":0.000841,"type":"quantitative","axis":null},"y":{"datum":0.00114,"type":"quantitative","axis":null}}},
          {"data":{"name":"notes"},"transform":[{"filter":"datum.p == 'e'"}],"mark":{"type":"text","align":"left","baseline":"alphabetic","fontSize":13.5,"fontStyle":"italic","lineHeight":22.5,"dx":30.5,"dy":3,"text":["targ","Mann"]},"encoding":{"x":{"datum":0.000841,"type":"quantitative","axis":null},"y":{"datum":0.00114,"type":"quantitative","axis":null}}},
          {"data":{"name":"notes"},"transform":[{"filter":"datum.p == 'e'"}],"mark":{"type":"text","align":"left","baseline":"alphabetic","fontSize":17,"dx":64.5},"encoding":{"x":{"datum":0.000841,"type":"quantitative","axis":null},"y":{"datum":0.00114,"type":"quantitative","axis":null},"text":{"field":"m1","type":"nominal"}}},
          {"data":{"name":"notes"},"transform":[{"filter":"datum.p == 'e'"}],"mark":{"type":"text","align":"left","baseline":"alphabetic","fontSize":12,"dx":148,"dy":-6,"text":"−1"},"encoding":{"x":{"datum":0.000841,"type":"quantitative","axis":null},"y":{"datum":0.00114,"type":"quantitative","axis":null}}},
          {"data":{"name":"notes"},"transform":[{"filter":"datum.p == 'e'"}],"mark":{"type":"text","align":"left","baseline":"alphabetic","fontSize":17,"dx":74,"dy":22.5},"encoding":{"x":{"datum":0.000841,"type":"quantitative","axis":null},"y":{"datum":0.00114,"type":"quantitative","axis":null},"text":{"field":"m2","type":"nominal"}}},
          {"data":{"name":"notes"},"transform":[{"filter":"datum.p == 'e'"}],"mark":{"type":"text","align":"left","baseline":"alphabetic","fontSize":12,"dx":157.5,"dy":16.5,"text":"−1"},"encoding":{"x":{"datum":0.000841,"type":"quantitative","axis":null},"y":{"datum":0.00114,"type":"quantitative","axis":null}}}
        ]},
        {"width":264,"height":211,"resolve":{"axis":{"x":"independent","y":"independent"}},"layer":[
          {"data":{"name":"mann"},"transform":[{"filter":"datum.p == 'f' && datum.s == 'u'"}],"mark":{"type":"line","color":"#c71585"},"encoding":{"x":{"field":"k","type":"quantitative","scale":{"type":"log","domain":[0.000708,1.413],"nice":false},"axis":{"orient":"bottom","values":[0.01,1],"labelExpr":"datum.value == 1 ? '10⁰' : '10⁻²'","tickSize":5,"labelPadding":7,"title":"k (m⁻¹)","titlePadding":6}},"y":{"field":"v","type":"quantitative","scale":{"type":"log","domain":[0.000298,1],"nice":false},"axis":{"orient":"left","values":[0.001,0.01,0.1,1],"labels":false,"title":null,"tickSize":5}}}},
          {"data":{"name":"targ"},"transform":[{"filter":"datum.s == 'u' && datum.k >= 0.019 && datum.k <= 0.8001"}],"mark":{"type":"line","color":"#ffc0cb"},"encoding":{"x":{"field":"k","type":"quantitative","axis":null},"y":{"field":"v","type":"quantitative","axis":{"orient":"left","values":[0.0003,0.0004,0.0005,0.0006,0.0007,0.0008,0.0009,0.002,0.003,0.004,0.005,0.006,0.007,0.008,0.009,0.02,0.03,0.04,0.05,0.06,0.07,0.08,0.09,0.2,0.3,0.4,0.5,0.6,0.7,0.8,0.9],"labels":false,"title":null,"tickSize":3}}}},
          {"data":{"name":"mann"},"transform":[{"filter":"datum.p == 'f' && datum.s == 'w'"}],"mark":{"type":"line","color":"#000080"},"encoding":{"x":{"field":"k","type":"quantitative","axis":null},"y":{"field":"v","type":"quantitative","axis":null}}},
          {"data":{"name":"targ"},"transform":[{"filter":"datum.s == 'w' && datum.k >= 0.019 && datum.k <= 0.8001"}],"mark":{"type":"line","color":"#6495ed"},"encoding":{"x":{"field":"k","type":"quantitative","axis":null},"y":{"field":"v","type":"quantitative","axis":null}}},
          {"data":{"name":"notes"},"transform":[{"filter":"datum.p == 'f'"}],"mark":{"type":"text","align":"right","baseline":"alphabetic","fontSize":17,"lineHeight":20.6,"dx":-17.5},"encoding":{"x":{"datum":1.122,"type":"quantitative","axis":null},"y":{"datum":0.44,"type":"quantitative","axis":null},"text":{"field":"rt","type":"nominal"}}},
          {"data":{"name":"notes"},"transform":[{"filter":"datum.p == 'f'"}],"mark":{"type":"text","align":"right","baseline":"alphabetic","fontSize":12,"lineHeight":20.6,"dy":-6},"encoding":{"x":{"datum":1.122,"type":"quantitative","axis":null},"y":{"datum":0.44,"type":"quantitative","axis":null},"text":{"field":"rs","type":"nominal"}}},
          {"data":{"name":"notes"},"transform":[{"filter":"datum.p == 'f'"}],"mark":{"type":"text","align":"left","baseline":"alphabetic","fontSize":17,"lineHeight":22.5,"text":["(","("]},"encoding":{"x":{"datum":0.000841,"type":"quantitative","axis":null},"y":{"datum":0.00114,"type":"quantitative","axis":null}}},
          {"data":{"name":"notes"},"transform":[{"filter":"datum.p == 'f'"}],"mark":{"type":"text","align":"left","baseline":"alphabetic","fontSize":17,"fontStyle":"italic","lineHeight":22.5,"dx":6.5,"text":["σ","σ"]},"encoding":{"x":{"datum":0.000841,"type":"quantitative","axis":null},"y":{"datum":0.00114,"type":"quantitative","axis":null}}},
          {"data":{"name":"notes"},"transform":[{"filter":"datum.p == 'f'"}],"mark":{"type":"text","align":"left","baseline":"alphabetic","fontSize":12,"fontStyle":"italic","lineHeight":22.5,"dx":17.5,"dy":3,"text":["u","u"]},"encoding":{"x":{"datum":0.000841,"type":"quantitative","axis":null},"y":{"datum":0.00114,"type":"quantitative","axis":null}}},
          {"data":{"name":"notes"},"transform":[{"filter":"datum.p == 'f'"}],"mark":{"type":"text","align":"left","baseline":"alphabetic","fontSize":17,"lineHeight":22.5,"dx":24,"text":[")",")"]},"encoding":{"x":{"datum":0.000841,"type":"quantitative","axis":null},"y":{"datum":0.00114,"type":"quantitative","axis":null}}},
          {"data":{"name":"notes"},"transform":[{"filter":"datum.p == 'f'"}],"mark":{"type":"text","align":"left","baseline":"alphabetic","fontSize":13.5,"fontStyle":"italic","lineHeight":22.5,"dx":30.5,"dy":3,"text":["targ","Mann"]},"encoding":{"x":{"datum":0.000841,"type":"quantitative","axis":null},"y":{"datum":0.00114,"type":"quantitative","axis":null}}},
          {"data":{"name":"notes"},"transform":[{"filter":"datum.p == 'f'"}],"mark":{"type":"text","align":"left","baseline":"alphabetic","fontSize":17,"dx":64.5},"encoding":{"x":{"datum":0.000841,"type":"quantitative","axis":null},"y":{"datum":0.00114,"type":"quantitative","axis":null},"text":{"field":"m1","type":"nominal"}}},
          {"data":{"name":"notes"},"transform":[{"filter":"datum.p == 'f'"}],"mark":{"type":"text","align":"left","baseline":"alphabetic","fontSize":12,"dx":148,"dy":-6,"text":"−1"},"encoding":{"x":{"datum":0.000841,"type":"quantitative","axis":null},"y":{"datum":0.00114,"type":"quantitative","axis":null}}},
          {"data":{"name":"notes"},"transform":[{"filter":"datum.p == 'f'"}],"mark":{"type":"text","align":"left","baseline":"alphabetic","fontSize":17,"dx":74,"dy":22.5},"encoding":{"x":{"datum":0.000841,"type":"quantitative","axis":null},"y":{"datum":0.00114,"type":"quantitative","axis":null},"text":{"field":"m2","type":"nominal"}}},
          {"data":{"name":"notes"},"transform":[{"filter":"datum.p == 'f'"}],"mark":{"type":"text","align":"left","baseline":"alphabetic","fontSize":12,"dx":157.5,"dy":16.5,"text":"−1"},"encoding":{"x":{"datum":0.000841,"type":"quantitative","axis":null},"y":{"datum":0.00114,"type":"quantitative","axis":null}}}
        ]}
      ]
    },
    {
      "width": 800,
      "height": 42,
      "view": {"stroke": null},
      "layer": [
        {"data":{"name":"box"},"mark":{"type":"rect","fill":"white","stroke":"#cccccc","strokeWidth":1,"cornerRadius":4,"xOffset":-9,"x2Offset":164},"encoding":{"x":{"field":"a","type":"nominal","scale":{"type":"point","domain":["SuMann","Sutarg","SwMann","Swtarg"],"range":[7,634],"padding":0},"axis":null},"x2":{"field":"b"}}},
        {"data":{"name":"keys"},"mark":{"type":"point","shape":"stroke","size":2401,"strokeWidth":2,"filled":false,"opacity":1,"xOffset":24.5},"encoding":{"x":{"field":"s","type":"nominal","axis":null},"color":{"field":"s","type":"nominal","scale":{"domain":["SuMann","Sutarg","SwMann","Swtarg"],"range":["#c71585","#ffc0cb","#000080","#6495ed"]},"legend":null}}},
        {"data":{"name":"keys"},"mark":{"type":"text","align":"left","baseline":"alphabetic","fontSize":24,"dx":69,"dy":8,"text":"("},"encoding":{"x":{"field":"s","type":"nominal","axis":null}}},
        {"data":{"name":"keys"},"mark":{"type":"text","align":"left","baseline":"alphabetic","fontSize":24,"fontStyle":"italic","dx":78,"dy":8,"text":"S"},"encoding":{"x":{"field":"s","type":"nominal","axis":null}}},
        {"data":{"name":"keys"},"mark":{"type":"text","align":"left","baseline":"alphabetic","fontSize":16.8,"fontStyle":"italic","dx":92,"dy":10},"encoding":{"x":{"field":"s","type":"nominal","axis":null},"text":{"field":"c","type":"nominal"}}},
        {"data":{"name":"keys"},"transform":[{"filter":"datum.c == 'u'"}],"mark":{"type":"text","align":"left","baseline":"alphabetic","fontSize":24,"dx":102.5,"dy":8,"text":")"},"encoding":{"x":{"field":"s","type":"nominal","axis":null}}},
        {"data":{"name":"keys"},"transform":[{"filter":"datum.c == 'w'"}],"mark":{"type":"text","align":"left","baseline":"alphabetic","fontSize":24,"dx":105.5,"dy":8,"text":")"},"encoding":{"x":{"field":"s","type":"nominal","axis":null}}},
        {"data":{"name":"keys"},"transform":[{"filter":"datum.c == 'u'"}],"mark":{"type":"text","align":"left","baseline":"alphabetic","fontSize":16.8,"fontStyle":"italic","dx":113.5,"dy":11.5},"encoding":{"x":{"field":"s","type":"nominal","axis":null},"text":{"field":"t","type":"nominal"}}},
        {"data":{"name":"keys"},"transform":[{"filter":"datum.c == 'w'"}],"mark":{"type":"text","align":"left","baseline":"alphabetic","fontSize":16.8,"fontStyle":"italic","dx":116.5,"dy":11.5},"encoding":{"x":{"field":"s","type":"nominal","axis":null},"text":{"field":"t","type":"nominal"}}}
      ]
    }
  ],
  "spacing": 21
}
